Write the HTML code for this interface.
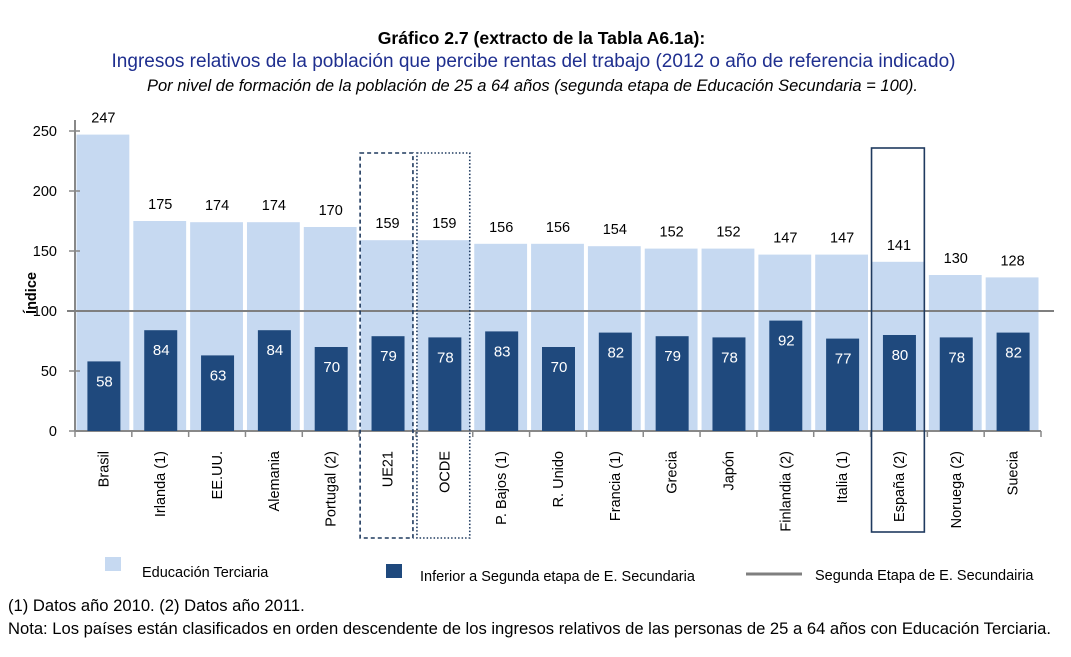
<!DOCTYPE html>
<html><head><meta charset="utf-8">
<style>
body{margin:0;background:#fff;width:1071px;height:657px;overflow:hidden;font-family:"Liberation Sans",sans-serif;}
.t{position:absolute;left:0;width:1071px;text-align:center;white-space:nowrap;}
</style></head>
<body>
<div class="t" style="top:28px;font-size:17.6px;font-weight:bold;color:#000;left:6px">Gráfico 2.7 (extracto de la Tabla A6.1a):</div>
<div class="t" style="top:51px;font-size:19px;color:#1f2f8f;left:-2px">Ingresos relativos de la población que percibe rentas del trabajo (2012 o año de referencia indicado)</div>
<div class="t" style="top:77px;font-size:16.5px;font-style:italic;color:#000;left:-3px">Por nivel de formación de la población de 25 a 64 años (segunda etapa de Educación Secundaria = 100).</div>
<svg id="chart" width="1071" height="657" style="position:absolute;left:0;top:0" xmlns="http://www.w3.org/2000/svg" font-family="Liberation Sans, sans-serif"></svg>
<div style="position:absolute;left:8px;top:596px;font-size:16.6px;white-space:nowrap">(1) Datos año 2010. (2) Datos año 2011.</div>
<div style="position:absolute;left:8px;top:619px;font-size:16.6px;white-space:nowrap">Nota: Los países están clasificados en orden descendente de los ingresos relativos de las personas de 25 a 64 años con Educación Terciaria.</div>
<script>
const categories=["Brasil","Irlanda (1)","EE.UU.","Alemania","Portugal (2)","UE21","OCDE","P. Bajos (1)","R. Unido","Francia (1)","Grecia","Japón","Finlandia (2)","Italia (1)","España (2)","Noruega (2)","Suecia"];
const tertiary=[247,175,174,174,170,159,159,156,156,154,152,152,147,147,141,130,128];
const lowerSecondary=[58,84,63,84,70,79,78,83,70,82,79,78,92,77,80,78,82];
const yTicks=[0,50,100,150,200,250];
const reference=100;

const svg=document.getElementById('chart');
const NS='http://www.w3.org/2000/svg';
const x0=75,x1=1041,y0=431,pxPer=1.2;
const band=(x1-x0)/categories.length;
function y(v){return y0-v*pxPer;}
function xs(i){return x0+i*band;}
function mk(tag,attrs,txt){const e=document.createElementNS(NS,tag);for(const k in attrs)e.setAttribute(k,attrs[k]);if(txt!==undefined)e.textContent=txt;svg.appendChild(e);return e;}

categories.forEach((c,i)=>{
  const b=mk('rect',{x:xs(i)+1.5,y:y(tertiary[i]),width:band-4,height:tertiary[i]*pxPer,fill:'#c6d9f1'});
  
  
  const l=mk('text',{x:xs(i)+band/2,y:y(tertiary[i])-12,'text-anchor':'middle','font-size':14.5,fill:'#000'},tertiary[i]);
  
  
});
const ax=mk('line',{x1:x0,y1:y0,x2:x1,y2:y0,stroke:'#888','stroke-width':2});


for(let i=0;i<=categories.length;i++){const t=mk('line',{x1:xs(i),y1:y0,x2:xs(i),y2:y0+6,stroke:'#888','stroke-width':1.5});
  
  }
categories.forEach((c,i)=>{
  const cx=xs(i)+band/2;
  const b=mk('rect',{x:cx-16,y:y(lowerSecondary[i]),width:33,height:lowerSecondary[i]*pxPer,fill:'#1f497d'});
  
  
  const l=mk('text',{x:cx+1,y:y(lowerSecondary[i])+25,'text-anchor':'middle','font-size':15,fill:'#fff'},lowerSecondary[i]);
  
  
  const cl=mk('text',{x:0,y:0,'text-anchor':'end','font-size':14.5,fill:'#000',transform:'translate('+(cx+5)+',451) rotate(-90)'},c);
  
  
});
const ya=mk('line',{x1:x0,y1:y0,x2:x0,y2:120,stroke:'#888','stroke-width':2});


yTicks.forEach(v=>{
  const t=mk('line',{x1:x0-6,y1:y(v),x2:x0+5,y2:y(v),stroke:'#888','stroke-width':1.5});
  
  
  const l=mk('text',{x:57,y:y(v)+5,'text-anchor':'end','font-size':14.5,fill:'#000'},v);
  
  
});
const rl=mk('line',{x1:x0-8,y1:y(reference),x2:1054,y2:y(reference),stroke:'#7f7f7f','stroke-width':2});


const yt=mk('text',{x:0,y:0,'text-anchor':'middle','font-size':14.5,'font-weight':'bold',fill:'#000',transform:'translate(36,293) rotate(-90)'},'Índice');


const hb=[[5,'4,3'],[6,'1.5,2'],[14,'']];
hb.forEach(([i,d])=>{
  const top=i===14?148:153, bot=i===14?532:538;
  const r=mk('rect',{x:xs(i)+1,y:top,width:band-4,height:bot-top,fill:'none',stroke:'#1f3a5f','stroke-width':1.6,'stroke-dasharray':d});
  
  
});
let e;
e=mk('rect',{x:105,y:557,width:16,height:14,fill:'#c6d9f1'});


e=mk('text',{x:142,y:577,'font-size':14.5},'Educación Terciaria');


e=mk('rect',{x:386,y:564,width:16,height:14,fill:'#1f497d'});


e=mk('text',{x:420,y:581,'font-size':14.5},'Inferior a Segunda  etapa de E. Secundaria');


e=mk('line',{x1:746,y1:574,x2:802,y2:574,stroke:'#7f7f7f','stroke-width':3});


e=mk('text',{x:815,y:580,'font-size':14.5},'Segunda Etapa de E. Secundairia');


</script>
</body></html>
